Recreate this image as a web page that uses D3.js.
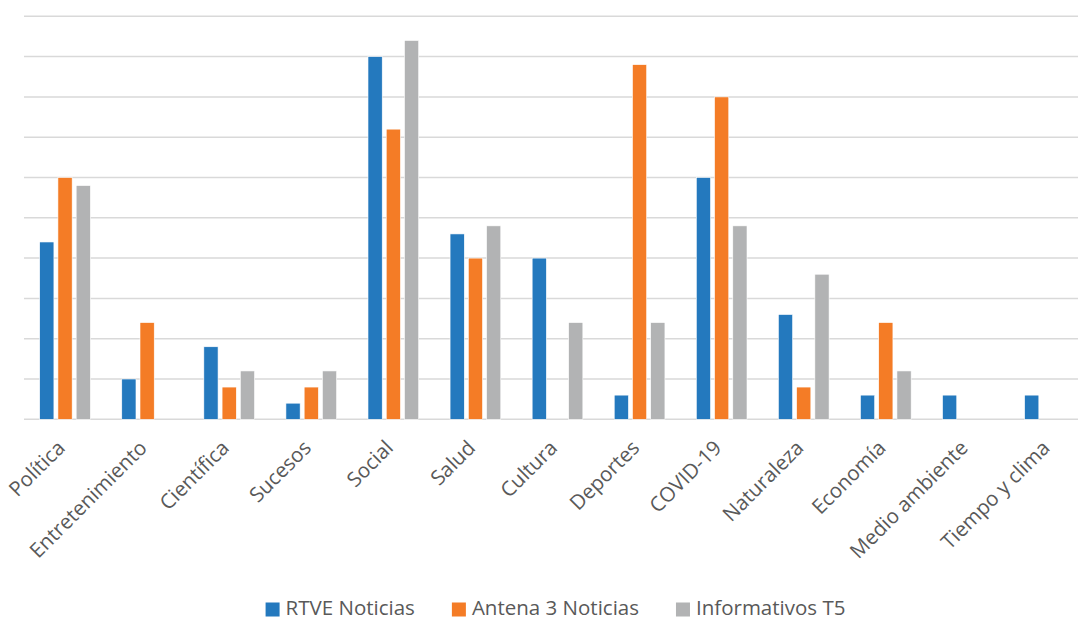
<!DOCTYPE html>
<html>
<head>
<meta charset="utf-8">
<style>
body { margin: 0; background: #fff; }
svg { display: block; }
text { font-family: "Open Sans", sans-serif; fill: #595959; }
.grid line { stroke: #d9d9d9; stroke-width: 1.5px; }
</style>
</head>
<body>
<svg width="1078" height="619"></svg>
<script src="https://cdn.jsdelivr.net/npm/d3@7"></script>
<script>

var categories = ["Política", "Entretenimiento", "Científica", "Sucesos", "Social", "Salud",
  "Cultura", "Deportes", "COVID-19", "Naturaleza", "Economía", "Medio ambiente", "Tiempo y clima"];
var seriesNames = ["RTVE Noticias", "Antena 3 Noticias", "Informativos T5"];
var rtve    = [22, 5, 9, 2, 45, 23, 20, 3, 30, 13, 3, 3, 3];
var antena3 = [30, 12, 4, 4, 36, 20, 0, 44, 40, 4, 12, 0, 0];
var t5      = [29, 0, 6, 6, 47, 24, 12, 12, 24, 18, 6, 0, 0];
var yTicks  = [0, 5, 10, 15, 20, 25, 30, 35, 40, 45, 50];
var colors  = ["#2479be", "#f47c26", "#b2b3b4"];

var values = [rtve, antena3, t5];

var svg = d3.select("svg"),
    width = +svg.attr("width");

// the chart runs past the right edge of the picture, like the original crop
var x0 = d3.scaleBand().domain(categories).range([24, 1091]);
var x1 = d3.scaleBand().domain(seriesNames).range([0, x0.bandwidth()])
    .paddingInner(0.22).paddingOuter(0.86);
var y = d3.scaleLinear().domain([0, 50]).range([419.3, 16.3]);
var color = d3.scaleOrdinal().domain(seriesNames).range(colors);

svg.append("g")
    .attr("class", "grid")
  .selectAll("line")
  .data(yTicks)
  .enter().append("line")
    .attr("x1", 24)
    .attr("x2", width)
    .attr("y1", function(d) { return y(d); })
    .attr("y2", function(d) { return y(d); });

var groups = svg.append("g")
  .selectAll("g")
  .data(categories)
  .enter().append("g")
    .attr("transform", function(d) { return "translate(" + x0(d) + ",0)"; });

groups.selectAll("rect")
  .data(function(d, i) {
    return seriesNames.map(function(s, j) { return {series: s, value: values[j][i]}; });
  })
  .enter().filter(function(d) { return d.value > 0; }).append("rect")
    .attr("x", function(d) { return x1(d.series); })
    .attr("width", x1.bandwidth())
    .attr("y", function(d) { return y(d.value); })
    .attr("height", function(d) { return y(0) - y(d.value); })
    .attr("fill", function(d) { return color(d.series); })
    .attr("stroke", "#fff")
    .attr("stroke-width", 0.6);

// category labels, rotated
svg.append("g")
  .selectAll("text")
  .data(categories)
  .enter().append("text")
    .attr("transform", function(d) {
      return "translate(" + (x0(d) + x0.bandwidth() / 2 - 9) + ",439) rotate(-45)";
    })
    .attr("text-anchor", "end")
    .attr("dy", "0.7em")
    .style("font-size", "20.5px")
    .text(function(d) { return d; });

// legend
var legend = svg.append("g");
var items = legend.selectAll("g")
  .data(seriesNames)
  .enter().append("g");

items.append("rect")
    .attr("width", 14)
    .attr("height", 14)
    .attr("y", 602.5)
    .attr("fill", function(d) { return color(d); });

items.append("text")
    .attr("x", 20)
    .attr("y", 615)
    .style("font-size", "20.5px")
    .text(function(d) { return d; });

var pos = 0;
items.each(function() {
  var w = d3.select(this).select("text").node().getComputedTextLength();
  d3.select(this).attr("transform", "translate(" + pos + ",0)");
  pos += 20 + w + 37;
});
pos -= 37;
var center = (x0.range()[0] + x0.range()[1]) / 2;
legend.attr("transform", "translate(" + (center - pos / 2 - 2) + ",0)");

</script>
</body>
</html>
